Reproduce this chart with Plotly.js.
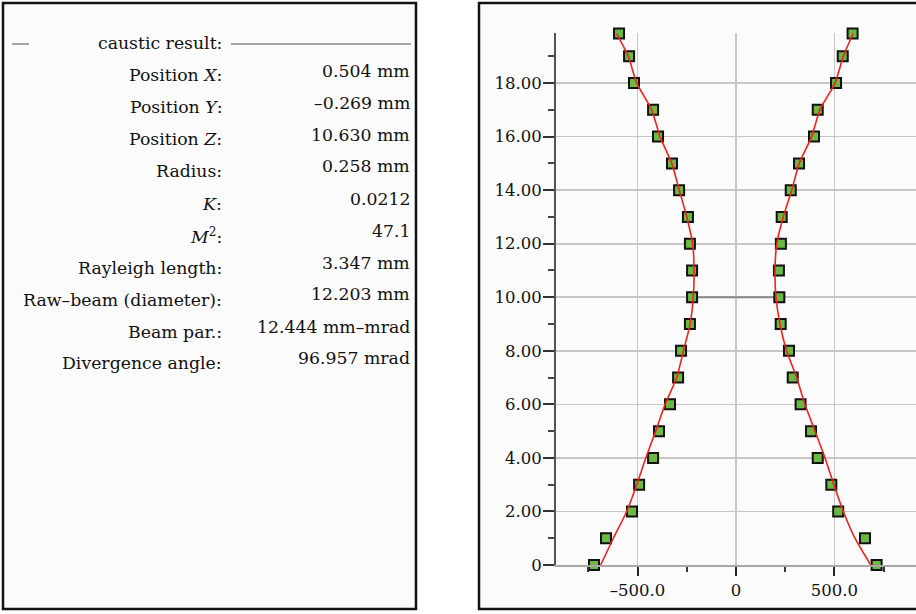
<!DOCTYPE html>
<html>
<head>
<meta charset="utf-8">
<script src="https://cdn.plot.ly/plotly-3.0.1.min.js"></script>
<style>html,body{margin:0;padding:0;background:#fff;}#chart{width:916px;height:614px;}</style>
</head>
<body>
<div id="chart"></div>
<script>
// ---- data ----
const zPositions = [0,1,2,3,4,5,6,7,8,9,10,11,12,13,14,15,16,17,18,19,19.85];
const leftEdge  = [-721,-660,-528,-492,-421,-391,-335,-294,-279,-234,-223,-223,-234,-244,-289,-325,-396,-421,-518,-543,-594];
const rightEdge = [714,655,519,484,415,381,328,288,269,227,220,218,228,232,278,320,396,415,508,542,592];
const fitLeft   = [-687,-623,-555,-504,-458,-408,-360,-301,-267,-233,-217,-213,-220,-250,-288,-326,-386,-428,-504,-547,-606];
const fitRight  = [684,604,545,497,452,401,350,308,257,223,203,198,207,240,283,321,384,426,503,545,595];
const waistX = [-217, 203];
const waistZ = [10, 10];

const yTickVals = [0,2,4,6,8,10,12,14,16,18];
const yTickText = ["0","2.00","4.00","6.00","8.00","10.00","12.00","14.00","16.00","18.00"];
const yMinorVals = [1,3,5,7,9,11,13,15,17,19];
const xTickVals = [-500,0,500];
const xTickText = ["–500.0","0","500.0"];
const xMinorVals = [-750,-250,250,750];

const resultLabels = ["Position <i>X</i>:","Position <i>Y</i>:","Position <i>Z</i>:","Radius:","<i>K</i>:",
  "<i>M</i><sup>2</sup>:","Rayleigh length:","Raw–beam (diameter):","Beam par.:","Divergence angle:"];
const resultValues = ["0.504 mm","–0.269 mm","10.630 mm","0.258 mm","0.0212","47.1","3.347 mm","12.203 mm",
  "12.444 mm–mrad","96.957 mrad"];

// ---- layout helpers (pixel -> paper) ----
const W = 916, H = 614;
const px = x => x / W;
const py = y => 1 - y / H;
const FONT = "DejaVu Serif";
const PANEL_SIZE = 17.3;

const traces = [
  {x: waistX, y: waistZ, mode: 'lines', line: {color: '#8a8a8a', width: 2}, hoverinfo: 'skip', cliponaxis: false},
  {x: leftEdge, y: zPositions, mode: 'markers', cliponaxis: false,
   marker: {symbol: 'square', size: 10, color: '#6cb844', line: {color: '#111', width: 2}}},
  {x: rightEdge, y: zPositions, mode: 'markers', cliponaxis: false,
   marker: {symbol: 'square', size: 10, color: '#6cb844', line: {color: '#111', width: 2}}},
  {x: fitLeft, y: zPositions, mode: 'lines', cliponaxis: false,
   line: {color: '#f0221c', width: 1.6, shape: 'spline', smoothing: 0.6}},
  {x: fitRight, y: zPositions, mode: 'lines', cliponaxis: false,
   line: {color: '#f0221c', width: 1.6, shape: 'spline', smoothing: 0.6}}
];

const annotations = [];
const rowLabelY = [75,107,139,171,204,236,268,300,332,363];
const rowValueY = [71,103,135,166,199,231,263,294,327,358];
annotations.push({xref:'paper', yref:'paper', x: px(224), y: py(43), xanchor:'right', yanchor:'middle',
  text: 'caustic result:', showarrow:false, font:{family: FONT, size: PANEL_SIZE, color:'#111'}});
resultLabels.forEach((t,i) => {
  annotations.push({xref:'paper', yref:'paper', x: px(224), y: py(rowLabelY[i]), xanchor:'right', yanchor:'middle',
    text: t, showarrow:false, font:{family: FONT, size: PANEL_SIZE, color:'#111'}});
  annotations.push({xref:'paper', yref:'paper', x: px(412), y: py(rowValueY[i]), xanchor:'right', yanchor:'middle',
    text: resultValues[i], showarrow:false, font:{family: FONT, size: PANEL_SIZE, color:'#111'}});
});

const shapes = [
  {type:'rect', xref:'paper', yref:'paper', x0: px(3), x1: px(416), y0: py(609), y1: py(3), layer:'below',
   line:{color:'#111', width:2.5}, fillcolor:'#fbfbfb'},
  {type:'rect', xref:'paper', yref:'paper', x0: px(479), x1: px(930), y0: py(609), y1: py(3), layer:'below',
   line:{color:'#111', width:2.5}, fillcolor:'#fbfbfb'},
  {type:'line', xref:'paper', yref:'paper', x0: px(12), x1: px(29), y0: py(44), y1: py(44),
   line:{color:'#888', width:1.5}},
  {type:'line', xref:'paper', yref:'paper', x0: px(231), x1: px(411), y0: py(44), y1: py(44),
   line:{color:'#888', width:1.5}}
];

const layout = {
  width: W, height: H,
  margin: {l:0, r:0, t:0, b:0},
  paper_bgcolor: '#ffffff',
  plot_bgcolor: 'rgba(0,0,0,0)',
  showlegend: false,
  font: {family: FONT, size: 16.5, color: '#111'},
  xaxis: {
    domain: [px(556), 1], range: [-914, 914], fixedrange: true,
    tickmode: 'array', tickvals: xTickVals, ticktext: xTickText,
    ticks: 'outside', ticklen: 9, tickwidth: 2, tickcolor: '#222',
    showgrid: true, gridcolor: '#c6c6c6', gridwidth: 1.6, zeroline: false,
    showline: true, linecolor: '#a8a8a8', linewidth: 2,
    tickfont: {family: FONT, size: 16.5, color: '#111'},
    minor: {tickmode: 'array', tickvals: xMinorVals, ticks: 'outside', ticklen: 5, tickwidth: 2, tickcolor: '#333', showgrid: false}
  },
  yaxis: {
    domain: [1 - 565/H, 1 - 33/H], range: [0, 19.87], fixedrange: true,
    tickmode: 'array', tickvals: yTickVals, ticktext: yTickText,
    ticks: 'outside', ticklen: 11, tickwidth: 2, tickcolor: '#333', ticklabelstandoff: -2,
    showgrid: true, gridcolor: '#c6c6c6', gridwidth: 1.6, zeroline: false,
    showline: true, linecolor: '#555', linewidth: 2,
    tickfont: {family: FONT, size: 16.5, color: '#111'},
    minor: {tickmode: 'array', tickvals: yMinorVals, ticks: 'outside', ticklen: 6, tickwidth: 2, tickcolor: '#444', showgrid: false}
  },
  annotations: annotations,
  shapes: shapes
};

Plotly.newPlot('chart', traces, layout, {displayModeBar: false, staticPlot: true});
</script>
</body>
</html>
